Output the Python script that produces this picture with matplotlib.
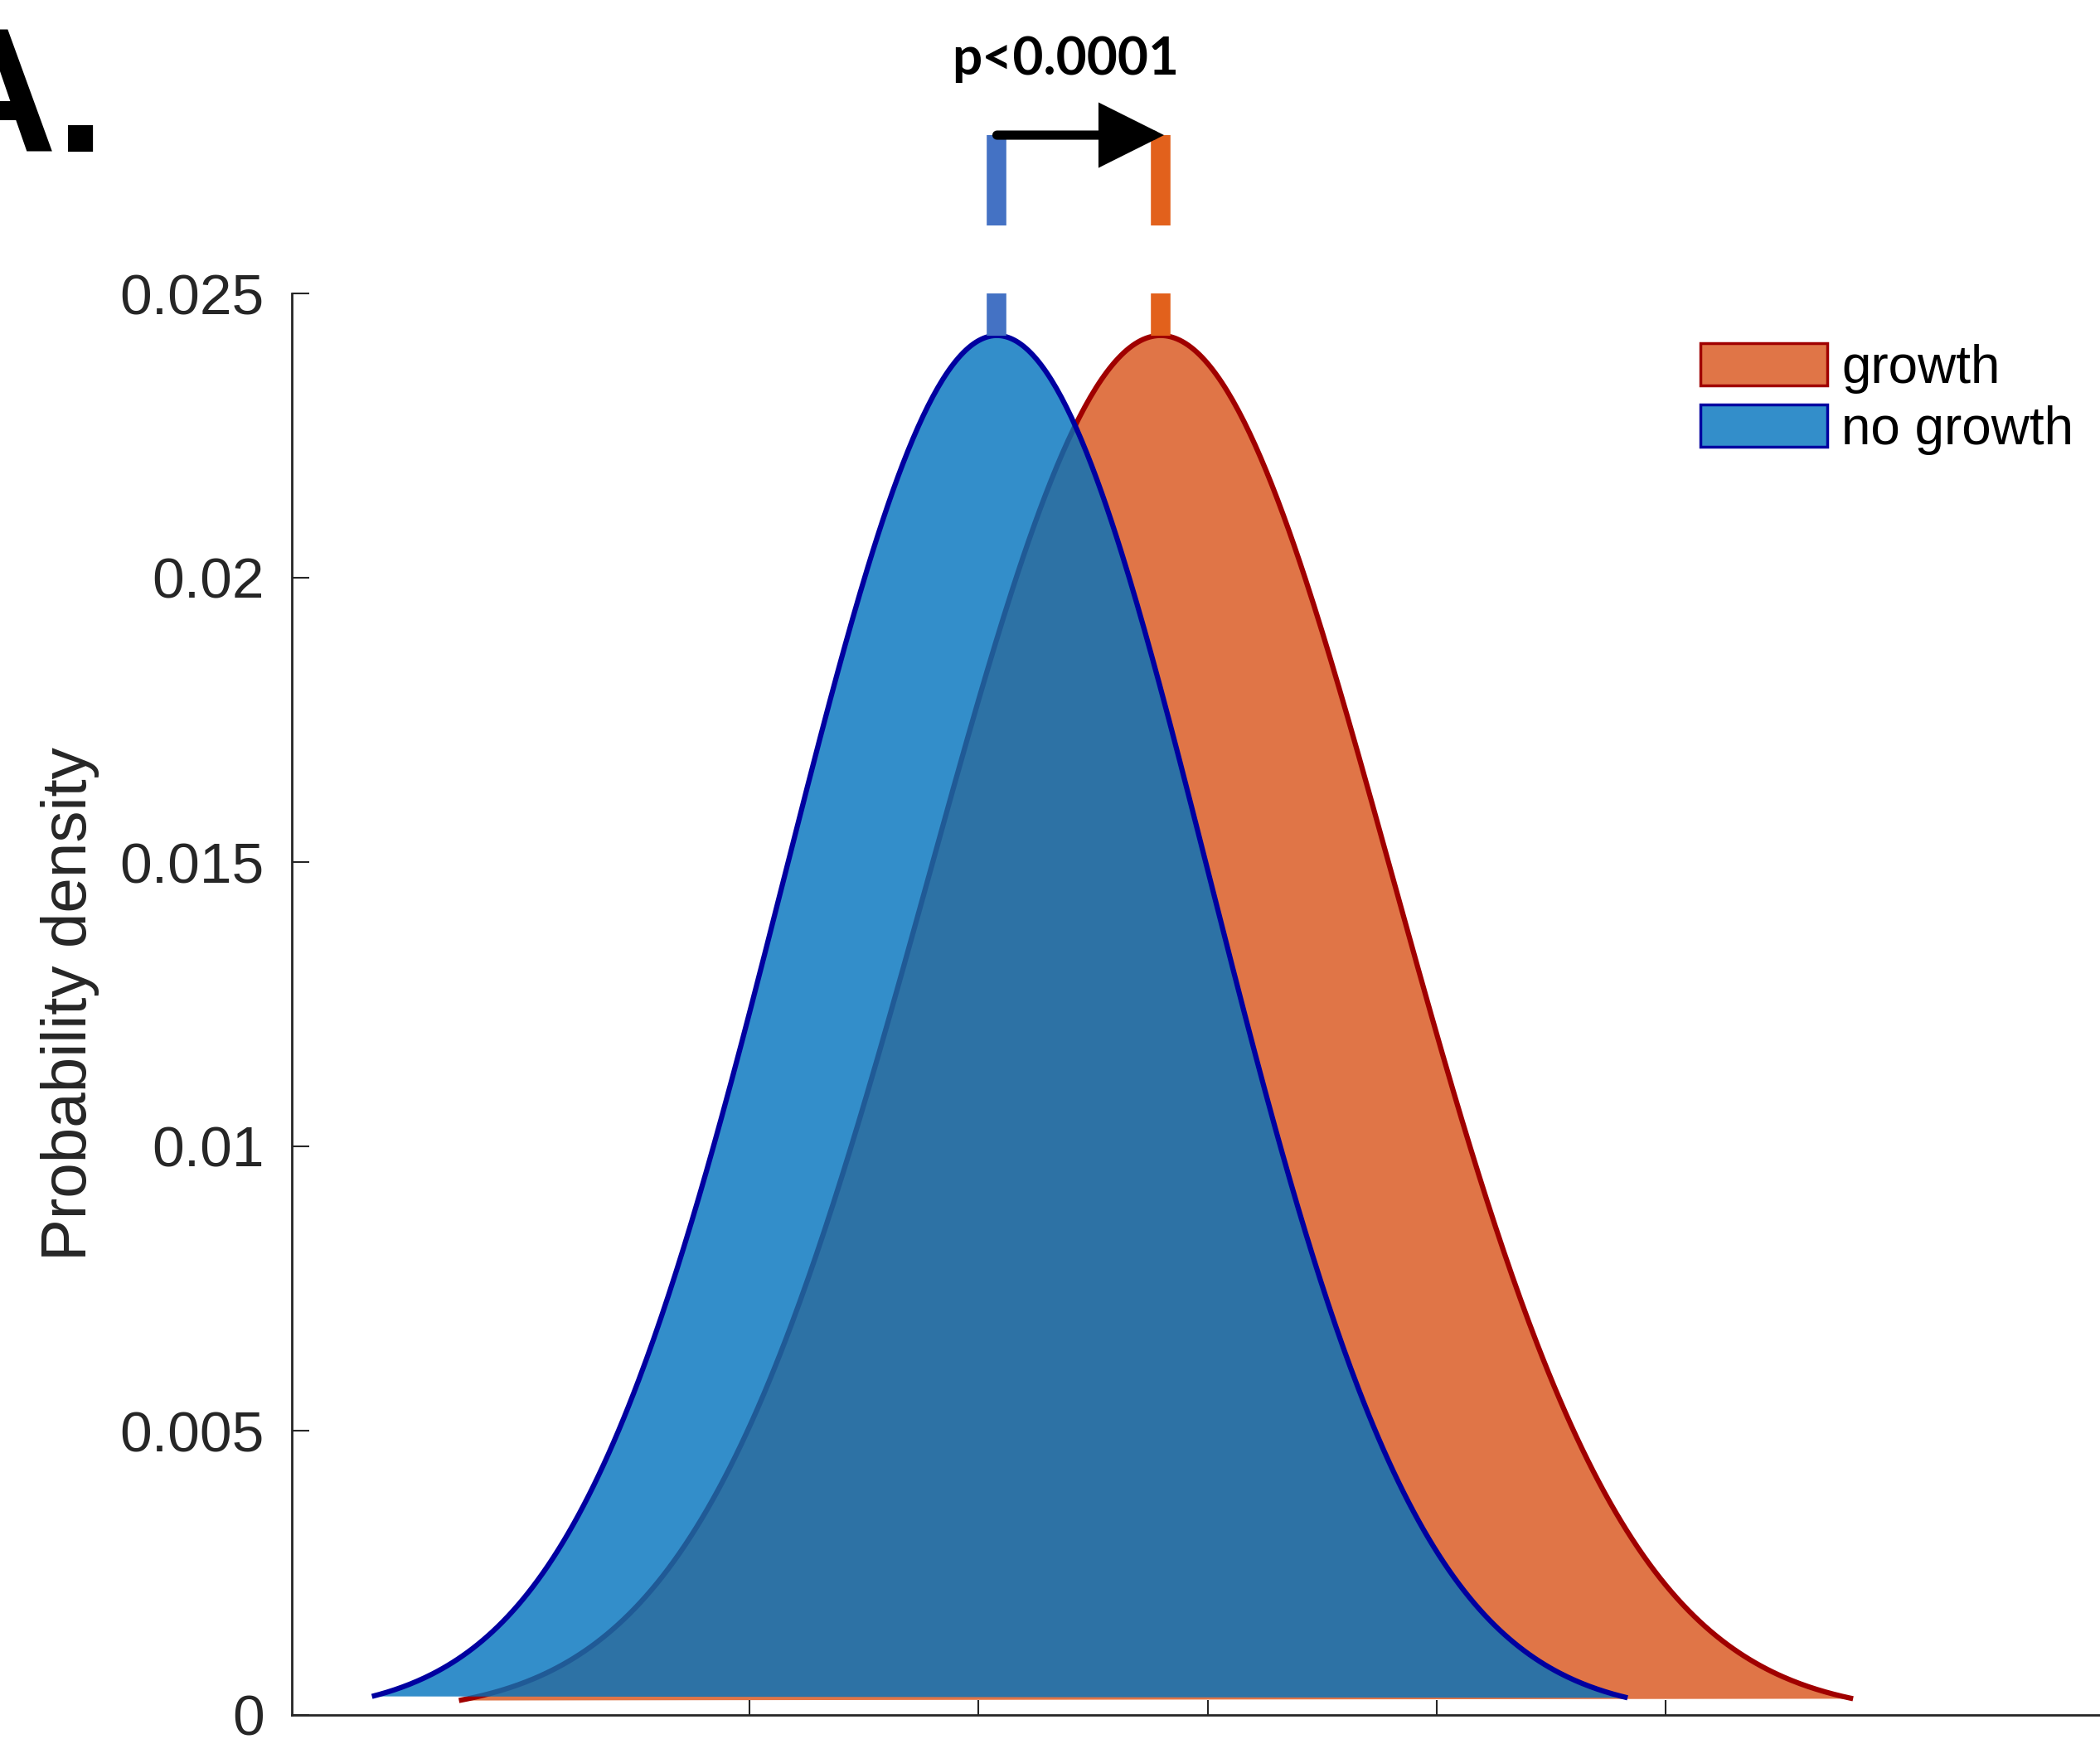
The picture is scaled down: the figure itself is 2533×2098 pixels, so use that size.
import numpy as np
import matplotlib
matplotlib.use("Agg")
import matplotlib.pyplot as plt
from matplotlib.patches import Patch, FancyArrowPatch
from matplotlib.colors import to_rgba

plt.rcParams['font.family'] = ['Liberation Sans', 'DejaVu Sans']

# normal fits (growth first, drawn underneath)
groups = ["growth", "no growth"]
means = [135.9, 121.6]
sds = [20.3, 18.6]
peaks = [0.02426, 0.02426]
x_lo = [74.6, 67.0]
x_hi = [196.4, 176.7]

face_colors = ["#D95319", "#0072BD"]
edge_colors = ["#A00000", "#0000A0"]
marker_colors = ["#E2611C", "#4472C4"]

yticks = [0, 0.005, 0.01, 0.015, 0.02, 0.025]
ytick_labels = ["0", "0.005", "0.01", "0.015", "0.02", "0.025"]
xticks = [100, 120, 140, 160, 180]
p_text = "p<0.0001"

W, H = 2533, 2098
fig = plt.figure(figsize=(W / 100, H / 100), dpi=100)
ax = fig.add_axes([352 / W, 29 / H, 2209 / W, 1715 / H])

for i in range(len(groups)):
    x = np.linspace(x_lo[i], x_hi[i], 500)
    y = peaks[i] * np.exp(-0.5 * ((x - means[i]) / sds[i]) ** 2)
    ax.fill(x, y, color=face_colors[i], alpha=0.8, lw=0, zorder=1 + 2 * i)
    ax.plot(x, y, color=edge_colors[i], lw=4.5, zorder=2 + 2 * i,
            solid_capstyle='butt')

ax.set_xlim(60, 220)
ax.set_ylim(0, 0.025)
ax.set_xticks(xticks)
ax.set_xticklabels([])
ax.set_yticks(yticks)
ax.set_yticklabels(ytick_labels)
ax.tick_params(axis='both', direction='in', width=1.5, colors='#262626',
               labelsize=50, pad=24)
ax.tick_params(axis='y', length=15)
ax.tick_params(axis='x', length=13)
for s in ['top', 'right']:
    ax.spines[s].set_visible(False)
for s in ['left', 'bottom']:
    ax.spines[s].set_color('#262626')
    ax.spines[s].set_linewidth(2)

ax.set_ylabel('Probability density', fontsize=55, color='#262626')
ax.yaxis.set_label_coords(-0.105, 0.5)

# mean markers above the peaks
top_lo, top_hi = 0.026195, 0.027784
for i in range(len(groups)):
    ax.plot([means[i], means[i]], [peaks[i], 0.025], color=marker_colors[i],
            lw=17, solid_capstyle='butt', clip_on=False, zorder=6)
    ax.plot([means[i], means[i]], [top_lo, top_hi], color=marker_colors[i],
            lw=17, solid_capstyle='butt', clip_on=False, zorder=6)

arrow = FancyArrowPatch((means[1], top_hi), (means[0] + 0.3, top_hi),
                        arrowstyle='-|>,head_length=4.4,head_width=2.2',
                        mutation_scale=10, lw=8, color='black',
                        shrinkA=0, shrinkB=0, clip_on=False, zorder=7,
                        joinstyle='miter')
ax.add_patch(arrow)

fig.text(1285 / W, 1 - 90 / H, p_text, fontsize=46, fontweight='bold',
         family=['Lato', 'DejaVu Sans'], ha='center', va='baseline')

fig.text(128 / W, 1 - 183 / H, "A.", fontsize=154,
         family=['Liberation Sans'], fontweight='bold',
         ha='right', va='baseline')

handles = [Patch(facecolor=to_rgba(face_colors[i], 0.8),
                 edgecolor=edge_colors[i], lw=2.5) for i in range(len(groups))]
ax.legend(handles, groups, loc='upper left',
          bbox_to_anchor=(2051 / W, 1 - 414 / H), bbox_transform=fig.transFigure,
          frameon=False, fontsize=46, borderpad=0, handlelength=2.4,
          handleheight=0.85, handletextpad=0.26, labelspacing=0.21,
          borderaxespad=0)

fig.savefig('out.png', dpi=100)
